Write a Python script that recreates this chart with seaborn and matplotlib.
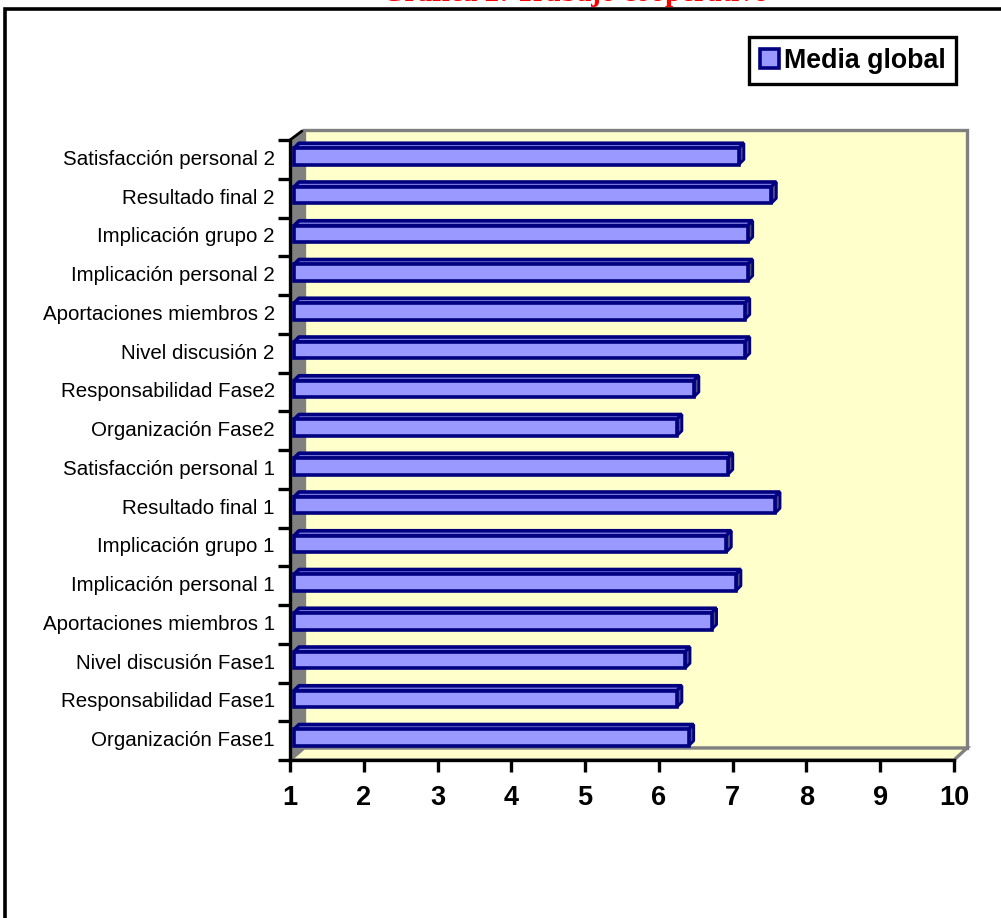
import matplotlib
matplotlib.use("Agg")
import matplotlib.pyplot as plt
import matplotlib.transforms as mtrans
from matplotlib.lines import Line2D
from matplotlib.patches import Polygon, Rectangle
import pandas as pd
import seaborn as sns

W, H = 1001, 918

labels = [
    "Satisfacción personal 2", "Resultado final 2", "Implicación grupo 2",
    "Implicación personal 2", "Aportaciones miembros 2", "Nivel discusión 2",
    "Responsabilidad Fase2", "Organización Fase2", "Satisfacción personal 1",
    "Resultado final 1", "Implicación grupo 1", "Implicación personal 1",
    "Aportaciones miembros 1", "Nivel discusión Fase1",
    "Responsabilidad Fase1", "Organización Fase1",
]
media = [7.03, 7.47, 7.15, 7.15, 7.11, 7.11, 6.42, 6.19,
         6.88, 7.52, 6.86, 6.99, 6.66, 6.30, 6.19, 6.35]
x_ticks = [1, 2, 3, 4, 5, 6, 7, 8, 9, 10]

BAR = "#9999FF"
EDGE = "#000080"
WALL = "#FFFFCC"
GRAY = "#808080"

sns.set_theme(style="white")
plt.rcParams["font.family"] = ["Liberation Sans", "DejaVu Sans"]

df = pd.DataFrame({"item": labels, "media": media})

fig = plt.figure(figsize=(W / 100, H / 100), dpi=100, facecolor="white")
# axes box in pixels: x 290-954, y 140-760 from the top
ax = fig.add_axes([290 / W, 1 - 760 / H, 664 / W, 620 / H])
ax.patch.set_alpha(0)


def px(x, y):
    return (x / W, 1 - y / H)


# outer frame, runs off the right and bottom of the picture
fig.add_artist(Rectangle(px(5, H + 5), (W + 5) / W, (H - 4) / H, transform=fig.transFigure,
                         fill=False, ec="black", lw=2.6))

# 3d box behind the plot
wall = [px(304, 130), px(967, 130), px(967, 748), px(304, 748)]
floor = [px(290, 760), px(304, 748), px(967, 748), px(954, 760)]
side = [px(290, 140), px(304, 130), px(304, 748), px(290, 760)]
for pts, fc, ec, lw in [(wall, WALL, GRAY, 2.4), (floor, WALL, GRAY, 2.4), (side, GRAY, GRAY, 1)]:
    fig.add_artist(Polygon(pts, closed=True, transform=fig.transFigure, fc=fc, ec=ec, lw=lw, zorder=-1))
corner = list(zip(px(290, 140), px(302, 131)))
fig.add_artist(Line2D(corner[0], corner[1], transform=fig.transFigure, color="black", lw=2, zorder=-0.5))

sns.barplot(data=df, x="media", y="item", orient="y", color=BAR, width=0.42,
            saturation=1, ax=ax, label="Media global", zorder=3)
ax.set_xlim(1, 10)
ax.set_ylim(15.5, -0.5)

# bars sit a little into the depth of the box, with a top and an end face
shift = ax.transData + mtrans.ScaledTranslation(4 / 100, 3 / 100, fig.dpi_scale_trans)
for bar in list(ax.patches):
    y0, bh = bar.get_y(), bar.get_height()
    end_x = bar.get_width()
    bar.set_x(1)
    bar.set_width(end_x - 1)
    bar.set_transform(shift)
    bar.set_edgecolor(EDGE)
    bar.set_linewidth(2.6)
    tl, tr = shift.transform([(1, y0), (end_x, y0)])
    br = shift.transform([(end_x, y0 + bh)])[0]
    top = Polygon([tl, tr, tr + (5, 5), tl + (5, 5)], closed=True, joinstyle="bevel",
                  transform=mtrans.IdentityTransform(), fc="#7777DD", ec=EDGE, lw=2.6, zorder=2.9)
    end = Polygon([tr, tr + (5, 5), br + (5, 5), br], closed=True, joinstyle="bevel",
                  transform=mtrans.IdentityTransform(), fc="#4D4D80", ec=EDGE, lw=2, zorder=2.9)
    ax.add_artist(top)
    ax.add_artist(end)

ax.set_xlabel("")
ax.set_ylabel("")
ax.set_xticks(x_ticks)
ax.set_xticklabels(x_ticks, fontsize=19.5, fontweight="bold", color="black")
ax.tick_params(axis="x", length=8.6, width=2.4, color="black", bottom=True, pad=9.5)

# y ticks sit between the categories, the labels stay on the categories
ax.set_yticks(range(len(labels)))
ax.set_yticklabels(labels, fontsize=14.8, color="black", va="center")
ax.tick_params(axis="y", length=0, pad=11)
ax.set_yticks([i - 0.5 for i in range(len(labels) + 1)], minor=True)
ax.tick_params(axis="y", which="minor", length=9, width=2.4, color="black", left=True)

sns.despine(ax=ax, top=True, right=True)
for name in ["left", "bottom"]:
    ax.spines[name].set_linewidth(2.4)
    ax.spines[name].set_color("black")

handles, names = ax.get_legend_handles_labels()
leg = ax.legend(handles, names, loc="upper left", bbox_to_anchor=px(749, 37),
                bbox_transform=fig.transFigure, prop={"size": 19.3, "weight": "bold"},
                labelcolor="black", frameon=True, fancybox=False, edgecolor="black",
                framealpha=1, handlelength=0.72, handleheight=0.72, handletextpad=0.18,
                borderpad=0.4, borderaxespad=0)
leg.get_frame().set_linewidth(2.4)
leg.legend_handles[0].set_edgecolor(EDGE)
leg.legend_handles[0].set_linewidth(2.6)

fig.text(575 / W, 1 - 1 / H, "Gráfica 2: Trabajo cooperativo", color="#FF0000",
         family="Liberation Serif", fontweight="bold", fontsize=21, ha="center", va="baseline")

fig.savefig("out.png", dpi=100)
